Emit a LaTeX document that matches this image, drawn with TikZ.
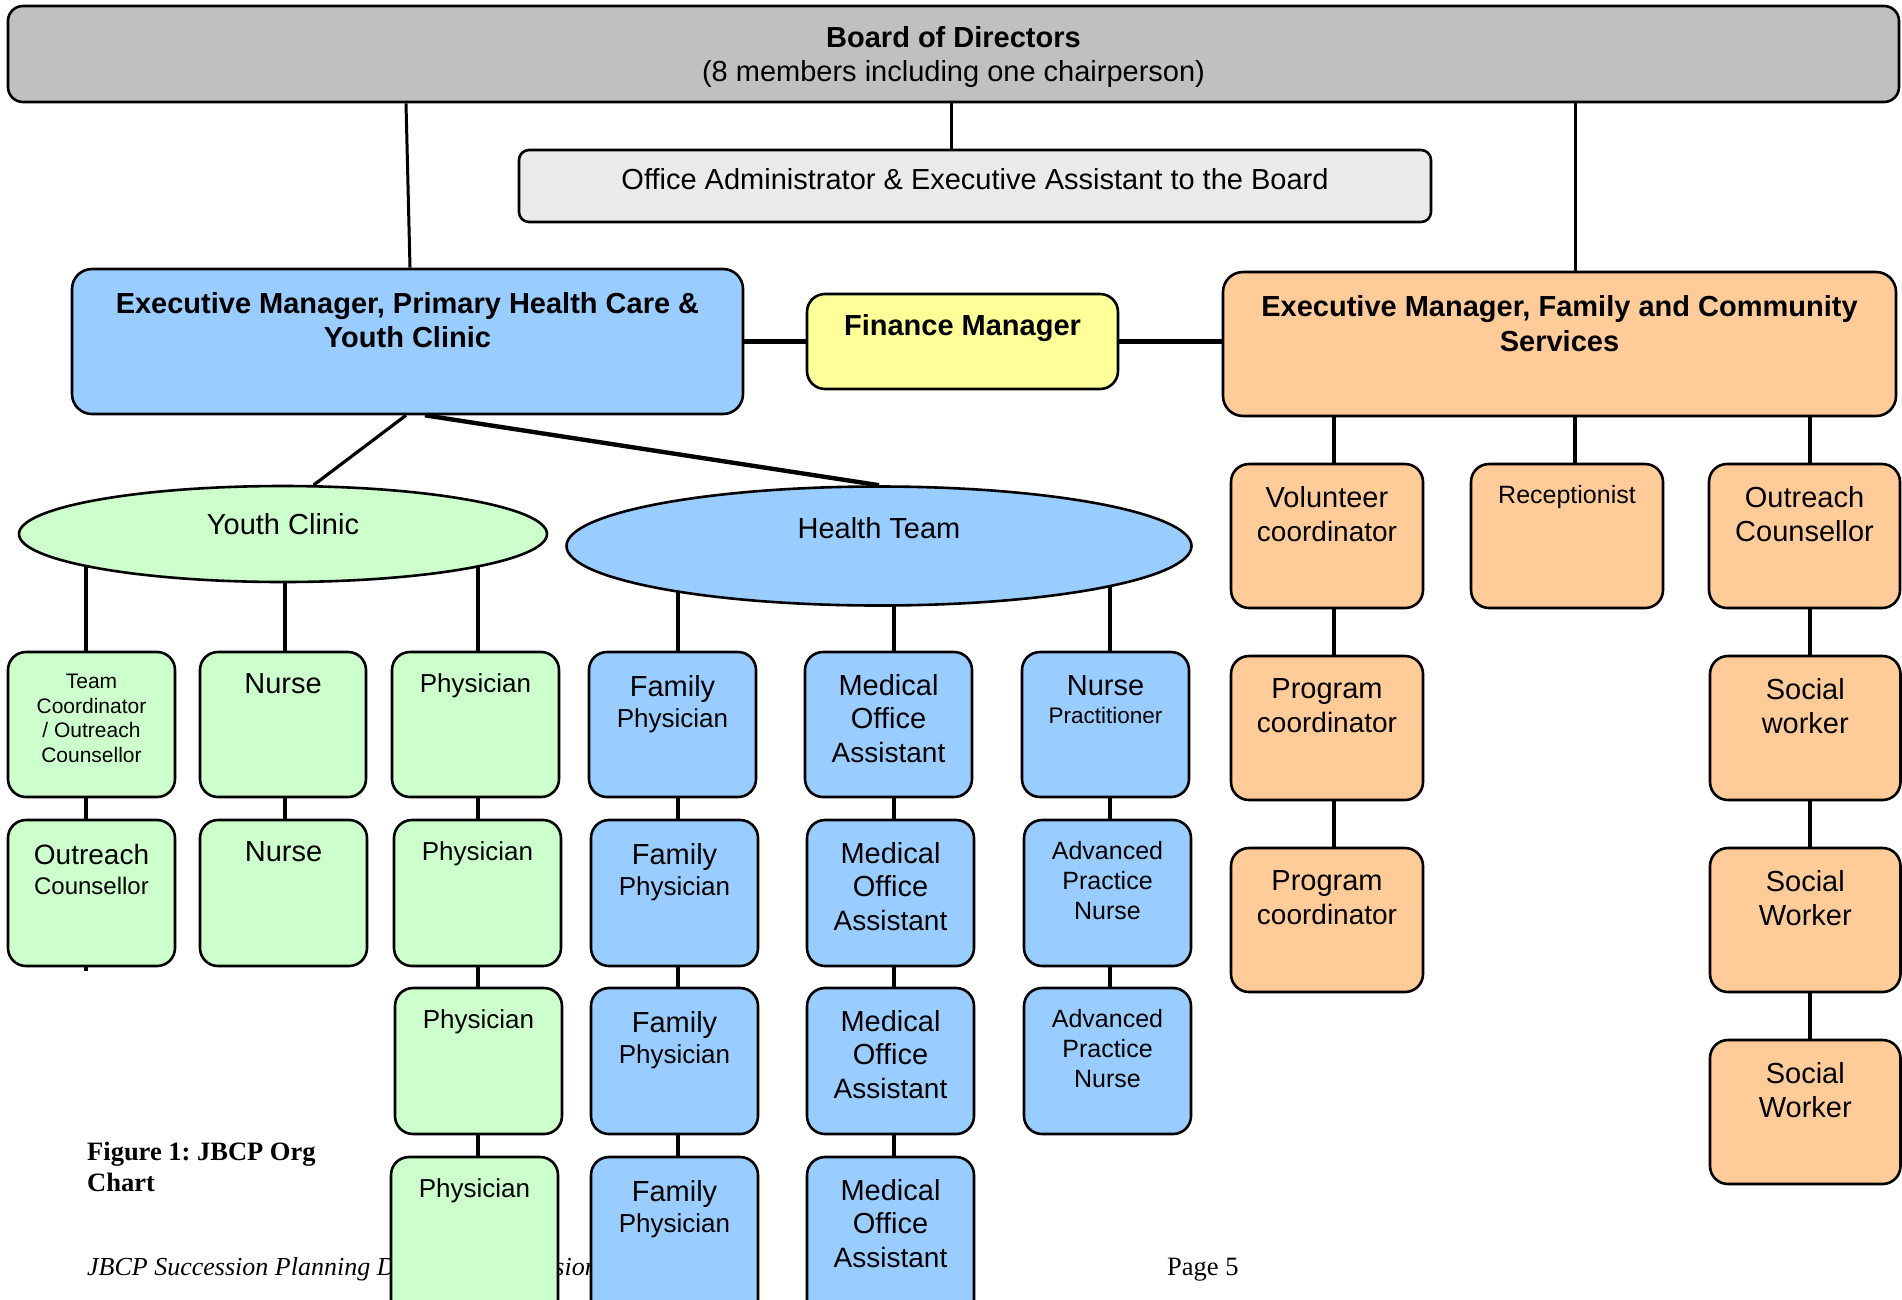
\documentclass[tikz,border=0pt]{standalone}
\usepackage{fontspec}
\setmainfont{Liberation Sans}
\newfontfamily\capfont{Liberation Serif}
\usetikzlibrary{shapes.geometric}
\pgfdeclarelayer{links}
\pgfsetlayers{links,main}
\frenchspacing
\definecolor{boardgrey}{HTML}{C0C0C0}
\definecolor{admingrey}{HTML}{EAEAEA}
\definecolor{teamblue}{HTML}{99CCFF}
\definecolor{finyellow}{HTML}{FFFF99}
\definecolor{servpeach}{HTML}{FFCC99}
\definecolor{youthgreen}{HTML}{CCFFCC}
\newcommand\fsz[2]{\fontsize{#1}{#2}\selectfont}
% box from its corners: name, style, x1, y1, x2, y2
\newcommand\orgbox[6]{\node[orgnode,#2,minimum width={#5-#3},minimum height={#6-#4}] (#1) at ({(#3+#5)/2},{(#4+#6)/2}) {};}
% text hanging below the top edge of a box: [style], name, box, gap, text
\newcommand\orglabel[5][]{\node[orgtext,#1] (#2) at ([yshift=-#4pt]#3.north) {#5};}
\begin{document}
\begin{tikzpicture}[x=1pt,y=-1pt,
  orgnode/.style={rectangle,draw,line width=2.6pt,rounded corners=18pt,inner sep=0pt},
  orgoval/.style={ellipse,draw,line width=2.6pt,inner sep=0pt},
  orgtext/.style={anchor=north,inner sep=0pt,align=center,font=\fsz{29}{34}},
  boardlink/.style={line width=3pt},
  link/.style={line width=3.2pt},
  heavylink/.style={line width=4.4pt},
  green/.style={fill=youthgreen},
  blue/.style={fill=teamblue},
  peach/.style={fill=servpeach}]
\useasboundingbox (0,0) rectangle (1902,1299);
\clip (0,0) rectangle (1902,1299);

% page caption and footer (partly covered by the chart)
\node[anchor=north west,inner sep=0pt,align=left,font=\capfont\bfseries\fsz{26.5}{31}] (caption) at (87,1142) {Figure 1: JBCP Org\\Chart};
\node[anchor=base west,inner sep=0pt,font=\capfont\itshape\fsz{26}{30}] (footer) at (87,1275) {JBCP Succession Planning Document — Version};
\node[anchor=base west,inner sep=0pt,font=\capfont\fsz{26.5}{30}] (pagenum) at (1167,1275) {Page 5};

% top level
\orgbox{board}{fill=boardgrey,rounded corners=15pt}{8}{6}{1899}{102}
\orgbox{office}{fill=admingrey,rounded corners=10pt}{519}{150}{1431}{222}
\orgbox{phc}{blue,rounded corners=20pt}{72}{269}{743}{414}
\orgbox{fin}{fill=finyellow}{807}{294}{1118}{389}
\orgbox{fcs}{peach,rounded corners=20pt}{1223}{272}{1896}{416}
\node[orgoval,green,minimum width=528pt,minimum height=96pt] (yc) at (283,534) {};
\node[orgoval,blue,minimum width=625pt,minimum height=119pt] (ht) at (879,546) {};

\orglabel{board-t}{board}{21.6}{\textbf{Board of Directors}\\(8 members including one chairperson)}
\orglabel{office-t}{office}{19.6}{Office Administrator \& Executive Assistant to the Board}
\orglabel{phc-t}{phc}{24.6}{\textbf{Executive Manager, Primary Health Care \&}\\\textbf{Youth Clinic}}
\orglabel{fin-t}{fin}{21.6}{\textbf{Finance Manager}}
\orglabel[font=\fsz{29}{35}]{fcs-t}{fcs}{24.6}{\textbf{Executive Manager, Family and Community}\\\textbf{Services}}
\orglabel{yc-t}{yc}{28.6}{Youth Clinic}
\orglabel{ht-t}{ht}{32}{Health Team}

% Youth Clinic staff
\orgbox{tc1}{green}{8}{652}{175}{797}
\orgbox{tc2}{green}{8}{820}{175}{966}
\orgbox{nu1}{green}{200}{652}{366}{797}
\orgbox{nu2}{green}{200}{820}{367}{966}
\orgbox{ph1}{green}{392}{652}{559}{797}
\orgbox{ph2}{green}{394}{820}{561}{966}
\orgbox{ph3}{green}{395}{988}{562}{1134}
\orgbox{ph4}{green}{391}{1157}{558}{1320}

\orglabel[font=\fsz{21}{24.5}]{tc1-t}{tc1}{23.4}{Team\\Coordinator\\/ Outreach\\Counsellor}
\orglabel[font=\fsz{28}{30}]{tc2-t}{tc2}{25}{Outreach\\\fsz{24}{30}Counsellor}
\orglabel{nu1-t}{nu1}{23}{Nurse}
\orglabel{nu2-t}{nu2}{23}{Nurse}
\orglabel[font=\fsz{26}{30}]{ph1-t}{ph1}{22.6}{Physician}
\orglabel[font=\fsz{26}{30}]{ph2-t}{ph2}{22.6}{Physician}
\orglabel[font=\fsz{26}{30}]{ph3-t}{ph3}{22.6}{Physician}
\orglabel[font=\fsz{26}{30}]{ph4-t}{ph4}{22.6}{Physician}

% Health Team staff
\orgbox{fp1}{blue}{589}{652}{756}{797}
\orgbox{fp2}{blue}{591}{820}{758}{966}
\orgbox{fp3}{blue}{591}{988}{758}{1134}
\orgbox{fp4}{blue}{591}{1157}{758}{1320}
\orgbox{mo1}{blue}{805}{652}{972}{797}
\orgbox{mo2}{blue}{807}{820}{974}{966}
\orgbox{mo3}{blue}{807}{988}{974}{1134}
\orgbox{mo4}{blue}{807}{1157}{974}{1320}
\orgbox{np1}{blue}{1022}{652}{1189}{797}
\orgbox{ap2}{blue}{1024}{820}{1191}{966}
\orgbox{ap3}{blue}{1024}{988}{1191}{1134}

\foreach \b in {fp1,fp2,fp3,fp4}
  \orglabel[font=\fsz{29}{31}]{\b-t}{\b}{24.5}{Family\\\fsz{26}{31}Physician};
\foreach \b in {mo1,mo2,mo3,mo4}
  \orglabel[font=\fsz{29}{33.5}]{\b-t}{\b}{23.5}{Medical\\Office\\\fsz{28}{33.5}Assistant};
\orglabel[font=\fsz{29}{28.7}]{np1-t}{np1}{24.4}{Nurse\\\fsz{22.5}{28.7}Practitioner}
\orglabel[font=\fsz{25}{30}]{ap2-t}{ap2}{22.8}{Advanced\\Practice\\Nurse}
\orglabel[font=\fsz{25}{30}]{ap3-t}{ap3}{22.8}{Advanced\\Practice\\Nurse}

% Family and Community Services staff
\orgbox{vol}{peach}{1231}{464}{1423}{608}
\orgbox{rec}{peach}{1471}{464}{1663}{608}
\orgbox{oc}{peach}{1709}{464}{1900}{608}
\orgbox{pc1}{peach}{1231}{656}{1423}{800}
\orgbox{pc2}{peach}{1231}{848}{1423}{992}
\orgbox{sw1}{peach}{1710}{656}{1900.5}{800}
\orgbox{sw2}{peach}{1710}{848}{1900.5}{992}
\orgbox{sw3}{peach}{1710}{1040}{1900.5}{1184}

\orglabel{vol-t}{vol}{23.6}{Volunteer\\\fsz{28}{34}coordinator}
\orglabel[font=\fsz{25}{30}]{rec-t}{rec}{22.4}{Receptionist}
\orglabel{oc-t}{oc}{23.6}{Outreach\\Counsellor}
\orglabel{pc1-t}{pc1}{24}{Program\\\fsz{28}{34}coordinator}
\orglabel{pc2-t}{pc2}{24}{Program\\\fsz{28}{34}coordinator}
\orglabel{sw1-t}{sw1}{24}{Social\\worker}
\orglabel{sw2-t}{sw2}{24}{Social\\Worker}
\orglabel{sw3-t}{sw3}{24}{Social\\Worker}

% reporting lines, drawn behind the boxes
\begin{pgfonlayer}{links}
\draw[boardlink] (406,0 |- board.south) -- (410,0 |- phc.north);
\draw[boardlink] (951,0 |- board.south) -- (951,0 |- office.north);
\draw[boardlink] (1575,0 |- board.south) -- (1575,0 |- fcs.north);
\draw[heavylink] (phc.east) -- (fin.west);
\draw[heavylink] (fin.east) -- (fin.east -| fcs.west);
\draw[link] (406,0 |- phc.south) -- (yc.58);
\draw[heavylink] (425,0 |- phc.south) -- (ht.north);
\foreach \p/\c in {yc/tc1,tc1/tc2}
  \draw[link] (86,0 |- \p.center) -- (86,0 |- \c.center);
\draw[link] (86,0 |- tc2.center) -- (86,0 |- tc2.south) -- ++(0,4);
\foreach \p/\c in {yc/nu1,nu1/nu2}
  \draw[link] (285,0 |- \p.center) -- (285,0 |- \c.center);
\foreach \p/\c in {yc/ph1,ph1/ph2,ph2/ph3,ph3/ph4}
  \draw[link] (478,0 |- \p.center) -- (478,0 |- \c.center);
\foreach \p/\c in {ht/fp1,fp1/fp2,fp2/fp3,fp3/fp4}
  \draw[link] (678,0 |- \p.center) -- (678,0 |- \c.center);
\foreach \p/\c in {ht/mo1,mo1/mo2,mo2/mo3,mo3/mo4}
  \draw[link] (894,0 |- \p.center) -- (894,0 |- \c.center);
\foreach \p/\c in {ht/np1,np1/ap2,ap2/ap3}
  \draw[link] (1110,0 |- \p.center) -- (1110,0 |- \c.center);
\foreach \p/\c in {fcs/vol,vol/pc1,pc1/pc2}
  \draw[heavylink] (1334,0 |- \p.center) -- (1334,0 |- \c.center);
\draw[heavylink] (1575,0 |- fcs.center) -- (1575,0 |- rec.center);
\foreach \p/\c in {fcs/oc,oc/sw1,sw1/sw2,sw2/sw3}
  \draw[heavylink] (1810,0 |- \p.center) -- (1810,0 |- \c.center);
\end{pgfonlayer}
\end{tikzpicture}
\end{document}
